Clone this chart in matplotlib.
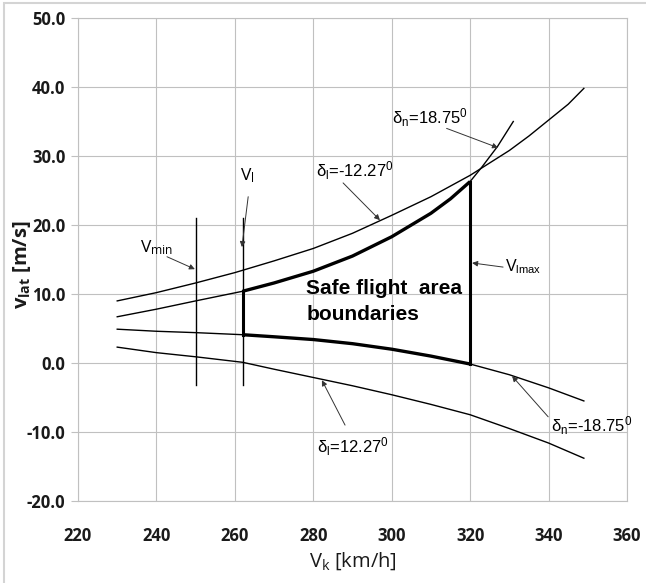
import numpy as np
import matplotlib
matplotlib.use("Agg")
import matplotlib.pyplot as plt
from matplotlib.patches import Rectangle

# ── Data ──────────────────────────────────────────────────────────────────────

# delta_l = -12.27 deg (upper thin curve)
vk_a = [230, 240, 250, 260, 270, 280, 290, 300, 310, 320, 330, 335, 340, 345, 349]
vlat_a = [9.0, 10.2, 11.6, 13.1, 14.8, 16.6, 18.8, 21.4, 24.1, 27.2, 30.8,
          32.9, 35.2, 37.5, 39.8]

# delta_n = 18.75 deg (steep curve, upper safe boundary)
vk_b = [230, 240, 250, 262, 270, 280, 290, 300, 310, 315, 320, 323, 327, 331]
vlat_b = [6.7, 7.8, 9.0, 10.4, 11.6, 13.3, 15.5, 18.3, 21.7, 23.8, 26.3,
          28.4, 31.4, 35.0]

# delta_n = -18.75 deg (lower safe boundary)
vk_c = [230, 240, 250, 262, 270, 280, 290, 300, 310, 320, 330, 340, 349]
vlat_c = [4.9, 4.6, 4.4, 4.1, 3.8, 3.4, 2.8, 2.0, 1.0, -0.15, -1.7, -3.6, -5.5]

# delta_l = 12.27 deg (lowest curve)
vk_d = [230, 240, 250, 262, 270, 280, 290, 300, 310, 320, 330, 340, 349]
vlat_d = [2.3, 1.5, 0.9, 0.1, -0.9, -2.1, -3.3, -4.6, -6.0, -7.5, -9.5, -11.6, -13.8]

# speed limits
v_min = 250
v_l = 262
v_lmax = 320
vert_range = [-3.2, 21.0]

x_ticks = [220, 240, 260, 280, 300, 320, 340, 360]
y_ticks = [-20, -10, 0, 10, 20, 30, 40, 50]

# ── Figure ────────────────────────────────────────────────────────────────────

plt.rcParams["mathtext.default"] = "regular"

fig = plt.figure(figsize=(6.46, 5.83), dpi=100)
ax = fig.add_axes([78 / 646, 1 - 501 / 583, 549 / 646, 483 / 583])

# light outer chart border
fig.patches.append(Rectangle((4 / 646, -0.05), 1.2, 1.05 - 3 / 583,
                             transform=fig.transFigure, fill=False,
                             edgecolor="#d4d4d4", lw=1.5))

calibri = ["Open Sans", "Lato", "DejaVu Sans"]
narrow = ["Liberation Sans Narrow", "Liberation Sans", "DejaVu Sans"]
tick_font = dict(family=calibri, weight="bold", size=12, color="#1a1a1a")

grid_col = "#c0c0c0"
ax.set_xlim(220, 360)
ax.set_ylim(-20, 50)
ax.set_xticks(x_ticks)
ax.set_xticklabels([str(v) for v in x_ticks], **tick_font)
ax.set_yticks(y_ticks)
ax.set_yticklabels([f"{v:.1f}" for v in y_ticks], **tick_font)
ax.grid(True, color=grid_col, lw=0.8)
ax.set_axisbelow(True)
for s in ax.spines.values():
    s.set_color(grid_col)
    s.set_linewidth(0.8)

ax.tick_params(axis="x", length=0, pad=19)
ax.tick_params(axis="y", length=5, pad=4, color=grid_col)

ax.set_xlabel("V$_k$ [km/h]", family=calibri, fontsize=14.5, color="#1a1a1a")
ax.set_ylabel("v$_{lat}$ [m/s]", family=calibri, fontsize=14.5,
              weight="bold", color="#1a1a1a")
ax.xaxis.set_label_coords(0.5, -0.103)
ax.yaxis.set_label_coords(-0.082, 0.49)

# thin curves
for xs, ys in [(vk_a, vlat_a), (vk_b, vlat_b), (vk_c, vlat_c), (vk_d, vlat_d)]:
    ax.plot(xs, ys, color="black", lw=1.0)

# thin vertical speed lines
ax.plot([v_min, v_min], vert_range, color="black", lw=1.0)
ax.plot([v_l, v_l], vert_range, color="black", lw=1.0)

# thick safe-area boundary
xb = np.array(vk_b)
yb = np.array(vlat_b)
mb = (xb >= v_l) & (xb <= v_lmax)
ax.plot(xb[mb], yb[mb], color="black", lw=2.4, solid_capstyle="butt")
xc = np.array(vk_c)
yc = np.array(vlat_c)
mc = (xc >= v_l) & (xc <= v_lmax)
ax.plot(xc[mc], yc[mc], color="black", lw=2.4, solid_capstyle="butt")
ax.plot([v_l, v_l], [np.interp(v_l, xc, yc), np.interp(v_l, xb, yb)],
        color="black", lw=2.2)
ax.plot([v_lmax, v_lmax], [np.interp(v_lmax, xc, yc), np.interp(v_lmax, xb, yb)],
        color="black", lw=2.2)

# ── Annotations ───────────────────────────────────────────────────────────────

arrow = dict(arrowstyle="-|>", color="#333333", lw=0.7, mutation_scale=8,
             shrinkA=0, shrinkB=0)


def label(x, y, s, family, size):
    ax.text(x, y, s, ha="center", va="center", family=family, fontsize=size)


def pointer(tail, head):
    ax.annotate("", xy=head, xytext=tail, arrowprops=arrow)


label(240.0, 16.7, "V$_{min}$", calibri, 12.5)
pointer((242.7, 15.4), (249.8, 13.6))

label(263.1, 27.2, "V$_l$", calibri, 12.5)
pointer((263.4, 24.1), (261.8, 16.8))

label(290.7, 27.9, "δ$_l$=-12.27$^0$", narrow, 12)
pointer((287.6, 26.1), (297.0, 20.7))

label(309.8, 35.6, "δ$_n$=18.75$^0$", narrow, 12)
pointer((314.0, 34.0), (327.1, 31.2))

label(333.5, 13.9, "V$_{lmax}$", narrow, 11.5)
pointer((328.4, 13.9), (320.5, 14.5))

label(290.2, -12.1, "δ$_l$=12.27$^0$", narrow, 12)
pointer((288.1, -9.0), (282.2, -2.5))

label(350.9, -9.1, "δ$_n$=-18.75$^0$", narrow, 12)
pointer((339.9, -7.8), (330.7, -1.9))

ax.text(278.2, 12.2, "Safe flight  area\nboundaries", ha="left", va="top",
        family=narrow, fontsize=15, weight="bold", linespacing=1.5)

fig.savefig("out.png", dpi=100)
